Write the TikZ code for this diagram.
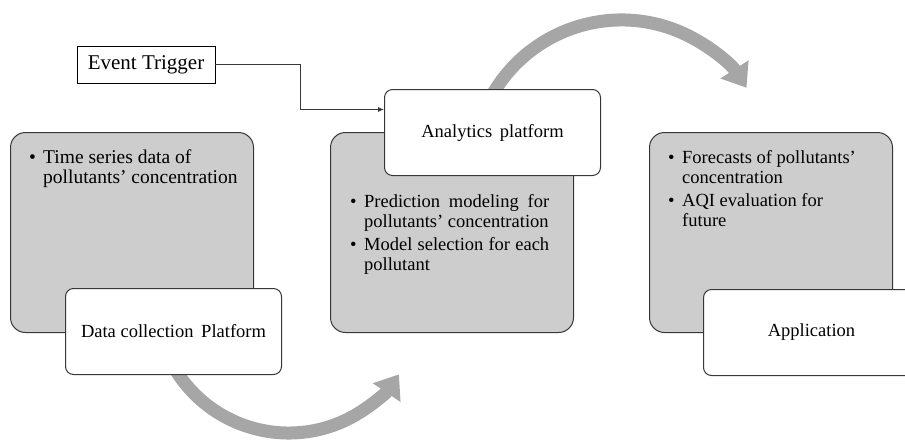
\documentclass[tikz,border=0pt]{standalone}
\usepackage{fontspec}
\setmainfont{Liberation Serif}
\usetikzlibrary{arrows.meta,backgrounds}
\definecolor{boxgray}{RGB}{205,205,205}
\definecolor{arcgray}{RGB}{166,166,166}
\definecolor{edgegray}{RGB}{55,55,55}
\newcommand{\blt}{\makebox[14pt][l]{\textbullet}}
\newcommand{\bpad}{\hspace*{14pt}}

\begin{document}
\begin{tikzpicture}[x=1pt,y=-1pt,
    panel/.style={draw=edgegray,line width=1pt,fill=boxgray,rounded corners=15pt,
      minimum width=243pt,minimum height=200pt,inner sep=0pt,anchor=north west},
    stage/.style={draw=edgegray,line width=1pt,fill=white,rounded corners=8pt,
      minimum width=216pt,minimum height=86pt,inner sep=0pt,anchor=north west,
      font=\fontsize{18.5}{20}\selectfont},
    points/.style={align=left,inner sep=0pt,anchor=north west,
      font=\fontsize{18.5}{20}\selectfont},
    trig/.style={draw=black,line width=0.8pt,minimum width=138pt,minimum height=37pt,
      inner sep=0pt,font=\fontsize{21}{22}\selectfont},
    link/.style={draw=edgegray,line width=0.8pt,-{Latex[length=6pt,width=5pt]}},
    flow/.style={arcgray,line width=13pt,-{Triangle[length=22pt,width=32pt]}}]
  \clip (0,0) rectangle (905,440);

  % gray panels
  \node[panel] (collectpanel) at (10,132) {};
  \node[panel] (analyticspanel) at (330,132) {};
  \node[panel] (apppanel) at (649,132) {};

  % bullet texts
  \node[points,font=\fontsize{19.5}{20}\selectfont] (collectpts)
    at ([xshift=19pt,yshift=-18pt]collectpanel.north west)
    {\blt Time series data of\\ \bpad pollutants’ concentration};
  \node[points] (analyticspts) at ([xshift=20pt,yshift=-62pt]analyticspanel.north west)
    {\blt\makebox[185pt][s]{Prediction modeling for}\\ \bpad pollutants’ concentration\\[3pt]
     \blt\makebox[185pt][s]{Model selection for each}\\ \bpad pollutant};
  \node[points] (apppts) at ([xshift=19pt,yshift=-18pt]apppanel.north west)
    {\blt Forecasts of pollutants’\\ \bpad concentration\\[3pt]
     \blt AQI evaluation for\\ \bpad future};

  % white stages
  \node[stage] (collect) at (65,288) {Data collection\, Platform};
  \node[stage] (analytics) at (384,89) {Analytics\, platform};
  \node[stage] (app) at (703,289) {Application};

  % trigger
  \node[trig] (trigger) at (146,64.5) {Event Trigger};
  \draw[link] (trigger.east) -- ++(85,0) |- ([yshift=23pt]analytics.west);

  % big gray arrows
  \begin{scope}[on background layer]
    \draw[flow] ([yshift=8.5pt]collect.south) arc[start angle=150,end angle=34,radius=133];
    \draw[flow] ([xshift=-6pt,yshift=-17pt]analytics.north) arc[start angle=205,end angle=327,radius=149];
  \end{scope}
\end{tikzpicture}
\end{document}
